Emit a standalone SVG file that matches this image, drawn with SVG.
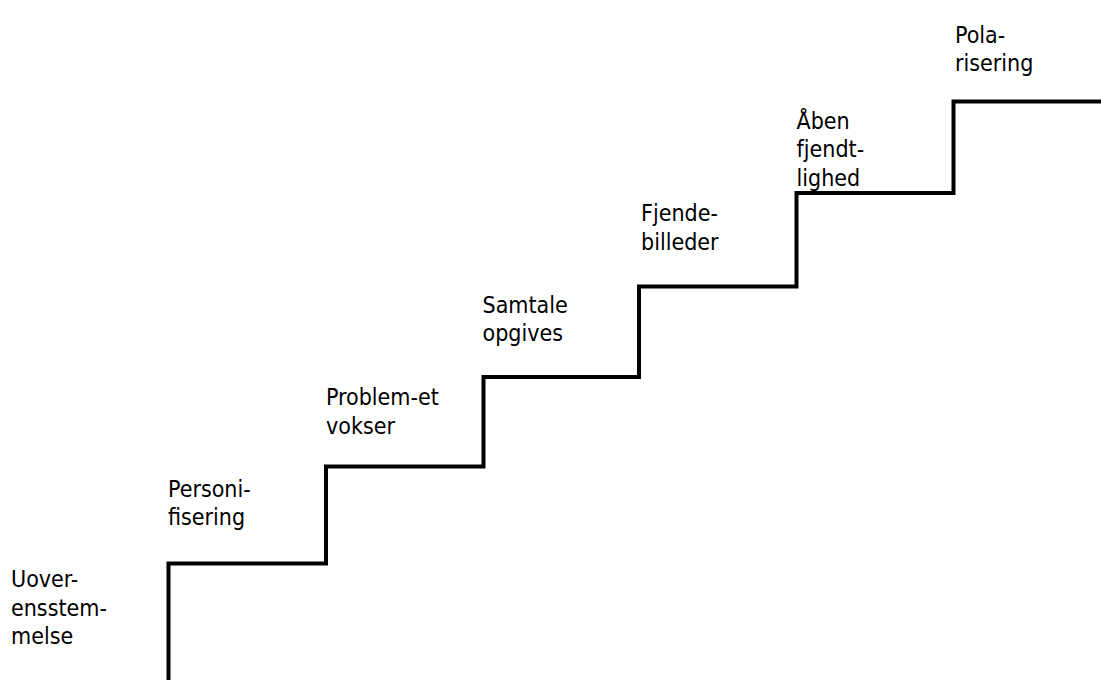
<svg xmlns="http://www.w3.org/2000/svg" width="1101" height="680" viewBox="0 0 1101 680">
<style>
text{font-family:"DejaVu Sans Condensed","DejaVu Sans",sans-serif;font-stretch:condensed;font-size:23px;fill:#000}
.stair{fill:none;stroke:#000;stroke-width:4;stroke-linejoin:miter}
</style>
<rect width="1101" height="680" fill="#fff"/>
<g id="connectors">
<path class="stair" d="M168.5 680 V563.5 H326 V466.5 H483.5 V377 H639 V286.5 H796.5 V193 H953.5 V101.5 H1101"/>
</g>
<g id="n1"><text x="11" y="587">Uover-</text><text x="11" y="615.5">ensstem-</text><text x="11" y="644">melse</text></g>
<g id="n2"><text x="168" y="496.5">Personi-</text><text x="168" y="525">fisering</text></g>
<g id="n3"><text x="326" y="405">Problem-et</text><text x="326" y="433.5">vokser</text></g>
<g id="n4"><text x="482.5" y="312.5">Samtale</text><text x="482.5" y="341">opgives</text></g>
<g id="n5"><text x="641" y="221">Fjende-</text><text x="641" y="249.5">billeder</text></g>
<g id="n6"><text x="796.5" y="128.5">Åben</text><text x="796.5" y="157">fjendt-</text><text x="796.5" y="185.5">lighed</text></g>
<g id="n7"><text x="955" y="42.5">Pola-</text><text x="955" y="71">risering</text></g>
</svg>
